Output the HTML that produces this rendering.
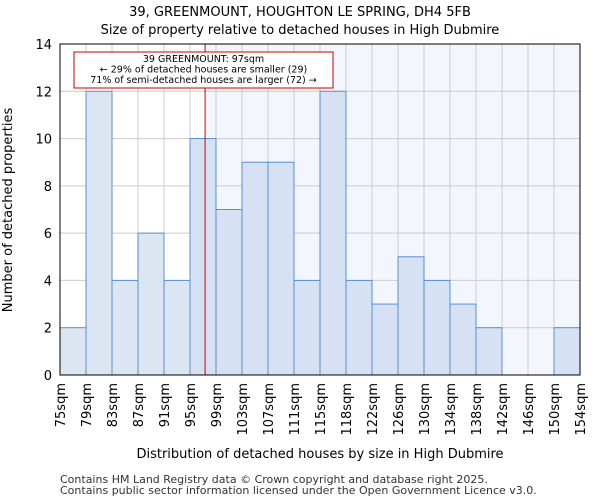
<!DOCTYPE html>
<html><head><meta charset="utf-8"><style>
body{margin:0;background:#fff;font-family:"DejaVu Sans","Liberation Sans",sans-serif;}
</style></head><body>
<svg id="c" width="600" height="500" xmlns="http://www.w3.org/2000/svg" font-family="DejaVu Sans, Liberation Sans, sans-serif">
<text x="300" y="16" text-anchor="middle" font-size="13">39, GREENMOUNT, HOUGHTON LE SPRING, DH4 5FB</text>
<text x="300" y="34" text-anchor="middle" font-size="13">Size of property relative to detached houses in High Dubmire</text>
<g id="plot"></g>
<text x="320" y="458" text-anchor="middle" font-size="13">Distribution of detached houses by size in High Dubmire</text>
<text transform="translate(12,210) rotate(-90)" text-anchor="middle" font-size="13">Number of detached properties</text>
<text x="60" y="483" font-size="11" fill="#333">Contains HM Land Registry data © Crown copyright and database right 2025.</text>
<text x="60" y="494" font-size="11" fill="#333">Contains public sector information licensed under the Open Government Licence v3.0.</text>
</svg>
<script>
const categories=["75sqm","79sqm","83sqm","87sqm","91sqm","95sqm","99sqm","103sqm","107sqm","111sqm","115sqm","118sqm","122sqm","126sqm","130sqm","134sqm","138sqm","142sqm","146sqm","150sqm","154sqm"];
const values=[2,12,4,6,4,10,7,9,9,4,12,4,3,5,4,3,2,0,0,2];
const yTicks=[0,2,4,6,8,10,12,14];
const markerBin=5.58;
const NS="http://www.w3.org/2000/svg";
const L=60,R=580,T=44,B=375,yMax=14;
const bw=(R-L)/values.length;
const x=i=>L+i*bw;
const y=v=>B-(v/yMax)*(B-T);
const g=document.getElementById('plot');
function mk(t,a,p){const e=document.createElementNS(NS,t);for(const k in a)e.setAttribute(k,a[k]);(p||g).appendChild(e);return e;}
const mx=x(markerBin);
let e=mk('rect',{x:mx,y:T,width:R-mx,height:B-T,fill:'#f3f6fd'});


yTicks.forEach(v=>{
 let l=mk('line',{x1:L,x2:R,y1:y(v),y2:y(v),stroke:'#cccccc'});
 
 
 let t=mk('text',{x:L-8,y:y(v)+5,'text-anchor':'end','font-size':13});
 t.textContent=v;
 
 
});
categories.forEach((c,i)=>{
 let l=mk('line',{x1:x(i),x2:x(i),y1:T,y2:B,stroke:'#cccccc'});
 
 
 let t=mk('text',{'font-size':13,'text-anchor':'end',transform:`translate(${x(i)+5},${B+8}) rotate(-90)`});
 t.textContent=c;
 
 
});
values.forEach((v,i)=>{
 if(v<=0)return;
 let r=mk('rect',{x:x(i),y:y(v),width:bw,height:B-y(v),fill:i<5?'#dce6f2':'#d6e2f4',stroke:'#5a8fd0','stroke-width':1});
 
 
});
e=mk('line',{x1:mx,x2:mx,y1:T,y2:B,stroke:'#cc0000','stroke-width':1});


e=mk('rect',{x:74,y:52,width:259,height:36,fill:'#fff',stroke:'#cc0000'});


["39 GREENMOUNT: 97sqm","← 29% of detached houses are smaller (29)","71% of semi-detached houses are larger (72) →"].forEach((s,k)=>{
 let t=mk('text',{x:203.5,y:62+k*10.5,'text-anchor':'middle','font-size':9.5});
 t.textContent=s;
 
 
});
e=mk('rect',{x:L,y:T,width:R-L,height:B-T,fill:'none',stroke:'#000','stroke-width':1});


</script>
</body></html>
